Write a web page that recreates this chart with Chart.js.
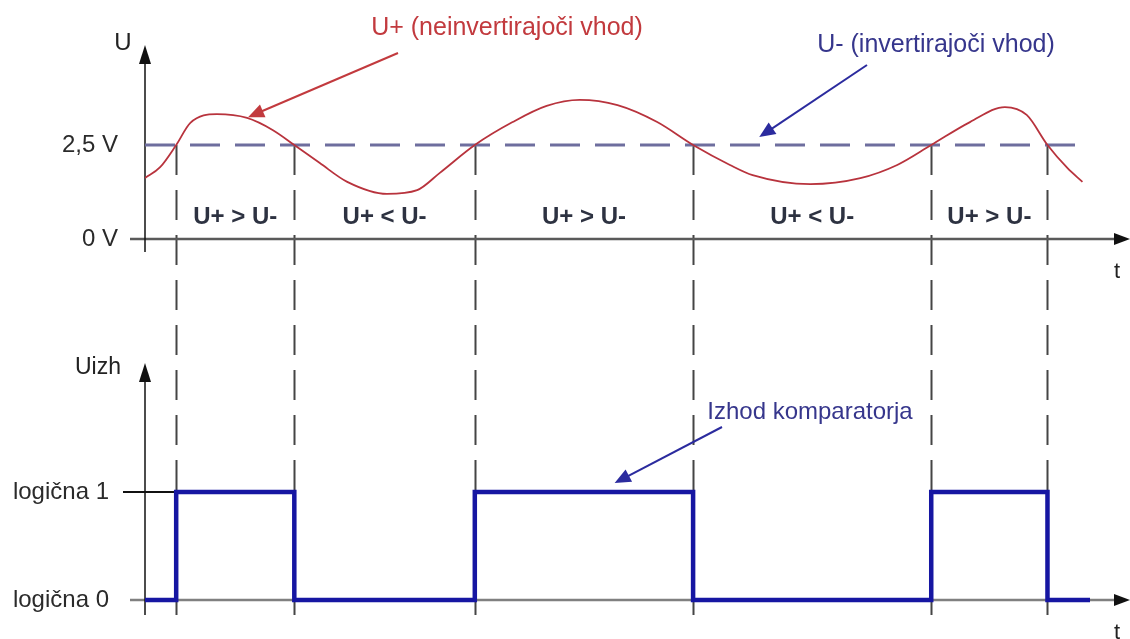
<!DOCTYPE html>
<html>
<head>
<meta charset="utf-8">
<script src="https://cdn.jsdelivr.net/npm/chart.js@4.4.1/dist/chart.umd.min.js"></script>
<style>
html, body { margin: 0; padding: 0; background: #fff; }
#wrap { width: 1130px; height: 639px; }
</style>
</head>
<body>
<div id="wrap"><canvas id="comparatorChart"></canvas></div>
<script>
const timePoints = [0, 1.6, 3.3, 4.8, 7.6, 10.8, 13.5, 15.8, 18.5, 21.4, 25.6, 28.8, 31.2, 34.9, 38.9, 42.5, 46.0, 50.0, 54.2, 58.0, 61.9, 64.3, 70.4, 75.7, 79.6, 83.2, 87.3, 91.0, 93.3, 95.5, 97.6, 99.2];
const uPlus = [1.62, 1.91, 2.5, 3.09, 3.32, 3.22, 2.90, 2.5, 2.02, 1.52, 1.20, 1.30, 1.76, 2.5, 3.11, 3.54, 3.70, 3.56, 3.11, 2.5, 1.97, 1.70, 1.46, 1.62, 1.97, 2.5, 3.11, 3.51, 3.30, 2.5, 1.89, 1.52];

// reference U- (constant 2.5 V)
const uMinusTimes = [0, 99.3];
const uMinusValues = [2.5, 2.5];

// where U+ crosses U-, and the comparator output
const crossings = [3.3, 15.8, 34.9, 58.0, 83.2, 95.5];
const outputTimes = [0, 3.3, 15.8, 34.9, 58.0, 83.2, 95.5, 100];
const outputLevels = [0, 1, 0, 1, 0, 1, 0, 0];

const regionLabels = ['U+ > U-', 'U+ < U-', 'U+ > U-', 'U+ < U-', 'U+ > U-'];

const uTicks = [0, 2.5];
const uTickLabels = ['0 V', '2,5 V'];
const logicTicks = [0, 1];
const logicTickLabels = ['logična 0', 'logična 1'];

const FONT = '"Liberation Sans", Arial, sans-serif';
const RED = '#c23a3e';
const NAVY = '#36368c';

function head(ctx, x1, y1, x2, y2, len, half, color) {
    const a = Math.atan2(y2 - y1, x2 - x1);
    const bx = x2 - len * Math.cos(a), by = y2 - len * Math.sin(a);
    ctx.fillStyle = color;
    ctx.beginPath();
    ctx.moveTo(x2, y2);
    ctx.lineTo(bx + half * Math.sin(a), by - half * Math.cos(a));
    ctx.lineTo(bx - half * Math.sin(a), by + half * Math.cos(a));
    ctx.closePath();
    ctx.fill();
}

function arrow(ctx, x1, y1, x2, y2, color, width, len, half) {
    const a = Math.atan2(y2 - y1, x2 - x1);
    ctx.strokeStyle = color;
    ctx.lineWidth = width;
    ctx.setLineDash([]);
    ctx.beginPath();
    ctx.moveTo(x1, y1);
    ctx.lineTo(x2 - len * 0.7 * Math.cos(a), y2 - len * 0.7 * Math.sin(a));
    ctx.stroke();
    head(ctx, x1, y1, x2, y2, len, half, color);
}

function text(ctx, str, x, y, color, font, align) {
    ctx.fillStyle = color;
    ctx.font = font;
    ctx.textAlign = align || 'center';
    ctx.textBaseline = 'middle';
    ctx.fillText(str, x, y);
}

const diagramPlugin = {
    id: 'diagram',
    beforeDatasetsDraw(chart) {
        const ctx = chart.ctx;
        const x = chart.scales.x, yU = chart.scales.yU, yL = chart.scales.yL;
        const area = chart.chartArea;
        ctx.save();

        // vertical dashed guides at the crossings
        ctx.strokeStyle = '#454545';
        ctx.lineWidth = 2;
        ctx.setLineDash([30, 15]);
        crossings.forEach(t => {
            const px = Math.round(x.getPixelForValue(t)) + 0.5;
            ctx.beginPath();
            ctx.moveTo(px, yU.getPixelForValue(2.5));
            ctx.lineTo(px, area.bottom);
            ctx.stroke();
        });
        ctx.setLineDash([]);

        const ax = area.left;
        // top panel axes
        const y0 = yU.getPixelForValue(0);
        ctx.strokeStyle = '#5a5a5a';
        ctx.lineWidth = 2.5;
        ctx.beginPath();
        ctx.moveTo(130, y0);
        ctx.lineTo(1118, y0);
        ctx.stroke();
        head(ctx, 1000, y0, 1130, y0, 16, 6, '#111');
        ctx.strokeStyle = '#111';
        ctx.lineWidth = 1.5;
        ctx.beginPath();
        ctx.moveTo(ax, y0 + 13);
        ctx.lineTo(ax, 60);
        ctx.stroke();
        head(ctx, ax, 100, ax, 45, 19, 6, '#111');

        // bottom panel axes
        const l0 = yL.getPixelForValue(0);
        const l1 = yL.getPixelForValue(1);
        ctx.strokeStyle = '#808080';
        ctx.lineWidth = 2.5;
        ctx.beginPath();
        ctx.moveTo(130, l0);
        ctx.lineTo(1118, l0);
        ctx.stroke();
        head(ctx, 1000, l0, 1130, l0, 16, 6, '#111');
        ctx.strokeStyle = '#111';
        ctx.lineWidth = 1.5;
        ctx.beginPath();
        ctx.moveTo(ax, area.bottom);
        ctx.lineTo(ax, 378);
        ctx.stroke();
        head(ctx, ax, 420, ax, 363, 19, 6, '#111');
        // logic 1 level marker
        ctx.lineWidth = 2;
        ctx.beginPath();
        ctx.moveTo(123, l1);
        ctx.lineTo(x.getPixelForValue(crossings[0]), l1);
        ctx.stroke();

        ctx.restore();
    },
    afterDatasetsDraw(chart) {
        const ctx = chart.ctx;
        const x = chart.scales.x, yU = chart.scales.yU, yL = chart.scales.yL;
        ctx.save();

        // region labels between the crossings
        const ly = yU.getPixelForValue(0) - 22;
        regionLabels.forEach((lbl, i) => {
            const cx = (x.getPixelForValue(crossings[i]) + x.getPixelForValue(crossings[i + 1])) / 2;
            text(ctx, lbl, cx, ly, '#2d3241', 'bold 24px ' + FONT);
        });

        // axis names
        text(ctx, 'U', 123, 43, '#222', '24px ' + FONT);
        text(ctx, 'Uizh', 98, 368, '#222', '23px ' + FONT);
        text(ctx, 't', 1117, 272, '#222', '22px ' + FONT);
        text(ctx, 't', 1117, 633, '#222', '22px ' + FONT);

        // annotations
        text(ctx, 'U+ (neinvertirajoči vhod)', 507, 28, RED, '25px ' + FONT);
        arrow(ctx, 398, 53, x.getPixelForValue(10.9), yU.getPixelForValue(3.24), RED, 2, 16, 7);

        text(ctx, 'U- (invertirajoči vhod)', 936, 45, NAVY, '25px ' + FONT);
        arrow(ctx, 867, 65, x.getPixelForValue(65), yU.getPixelForValue(2.71), '#2b2b9e', 2, 16, 7);

        text(ctx, 'Izhod komparatorja', 810, 412, NAVY, '24px ' + FONT);
        arrow(ctx, 722, 427, x.getPixelForValue(49.7), yL.getPixelForValue(1.083), '#2b2b9e', 2, 16, 7);

        ctx.restore();
    }
};

function panelScale(min, max, weight, stackWeight, ticks, labels, padding) {
    return {
        type: 'linear',
        position: 'left',
        stack: 'panels',
        stackWeight: stackWeight,
        weight: weight,
        min: min,
        max: max,
        grid: {display: false, drawTicks: false},
        border: {display: false},
        afterBuildTicks: s => { s.ticks = ticks.map(v => ({value: v})); },
        afterFit: s => {
            s.width = 145;
            // labels sit well inside the panel, no extra room needed
            s.paddingTop = 0;
            s.paddingBottom = 0;
        },
        ticks: {
            padding: padding,
            color: '#2a2a2a',
            font: {family: FONT, size: 24},
            autoSkip: false,
            callback: v => labels[ticks.indexOf(v)]
        }
    };
}

function initChart() {
    const ctx = document.getElementById('comparatorChart').getContext('2d');
    return new Chart(ctx, {
        type: 'line',
        data: {
            datasets: [{
                label: 'U+',
                data: timePoints.map((t, i) => ({x: t, y: uPlus[i]})),
                yAxisID: 'yU',
                borderColor: '#b8333d',
                borderWidth: 1.8,
                pointRadius: 0,
                cubicInterpolationMode: 'monotone',
                order: 0
            }, {
                label: 'U-',
                data: uMinusTimes.map((t, i) => ({x: t, y: uMinusValues[i]})),
                yAxisID: 'yU',
                borderColor: '#6e6e9e',
                borderWidth: 3,
                borderDash: [30, 15],
                pointRadius: 0,
                order: 1
            }, {
                label: 'Izhod',
                data: outputTimes.map((t, i) => ({x: t, y: outputLevels[i]})),
                yAxisID: 'yL',
                borderColor: '#1616a2',
                borderWidth: 4.5,
                stepped: 'before',
                pointRadius: 0,
                order: 0
            }]
        },
        options: {
            responsive: false,
            animation: false,
            layout: {
                padding: {left: 0, top: 40, right: 40, bottom: 24}
            },
            plugins: {
                legend: {display: false},
                title: {display: false},
                tooltip: {enabled: false}
            },
            scales: {
                x: {
                    type: 'linear',
                    min: 0,
                    max: 100,
                    display: false
                },
                // top panel: 40..320 px, bottom panel: 320..615 px
                yU: panelScale(-2.154, 5.293, 1, 280, uTicks, uTickLabels, 27),
                yL: panelScale(-0.139, 2.593, 0, 295, logicTicks, logicTickLabels, 36)
            }
        },
        plugins: [diagramPlugin]
    });
}

document.getElementById('comparatorChart').width = 1130;
document.getElementById('comparatorChart').height = 639;
initChart();
</script>
</body>
</html>
